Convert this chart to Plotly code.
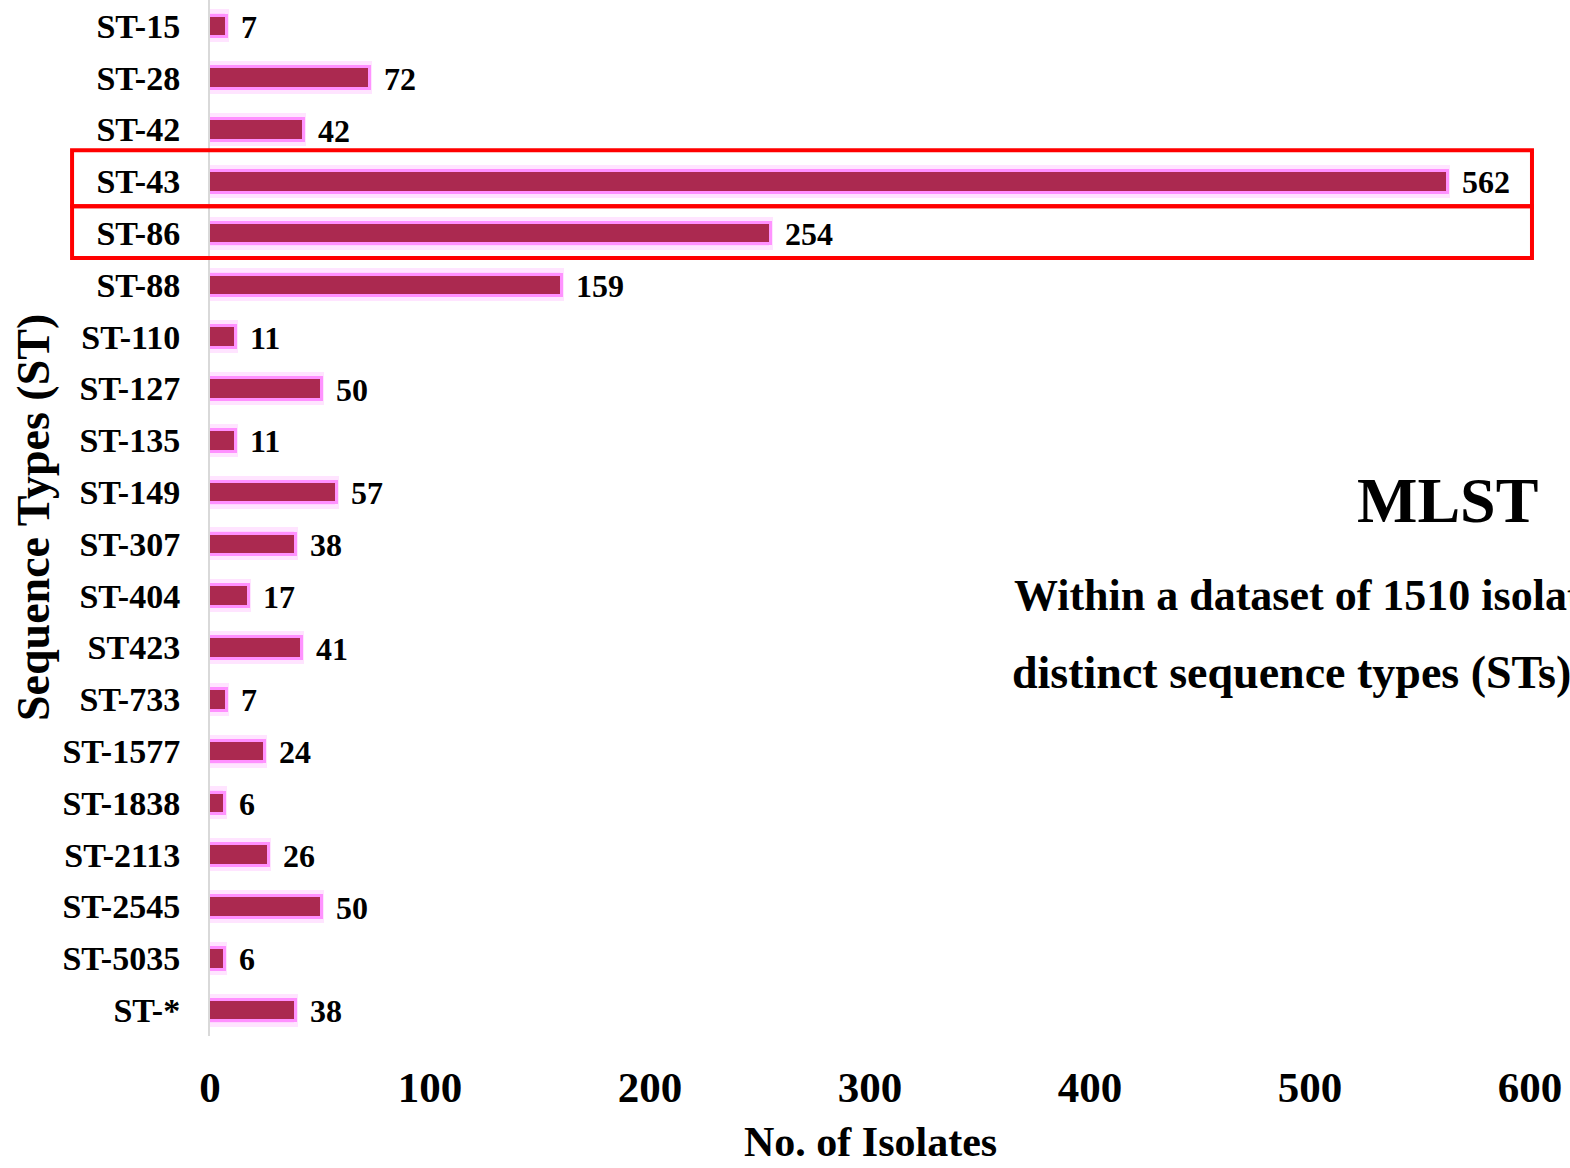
import plotly.graph_objects as go

categories = ["ST-15", "ST-28", "ST-42", "ST-43", "ST-86", "ST-88", "ST-110", "ST-127",
              "ST-135", "ST-149", "ST-307", "ST-404", "ST423", "ST-733", "ST-1577",
              "ST-1838", "ST-2113", "ST-2545", "ST-5035", "ST-*"]
isolates = [7, 72, 42, 562, 254, 159, 11, 50, 11, 57, 38, 17, 41, 7, 24, 6, 26, 50, 6, 38]
highlighted = ["ST-43", "ST-86"]
x_ticks = [0, 100, 200, 300, 400, 500, 600]

FONT = "Liberation Serif"
BAR = "#AB2950"

fig = go.Figure()
# outer soft glow
fig.add_trace(go.Bar(
    y=categories, x=isolates, orientation="h", width=0.48,
    marker=dict(color="rgba(255,195,255,0.45)", line=dict(color="rgba(255,195,255,0.45)", width=8)),
    hoverinfo="skip", showlegend=False,
))
# inner bright glow
fig.add_trace(go.Bar(
    y=categories, x=isolates, orientation="h", width=0.36,
    marker=dict(color="rgba(255,110,255,0.8)", line=dict(color="rgba(255,120,255,0.75)", width=6)),
    hoverinfo="skip", showlegend=False,
))
# main bar
fig.add_trace(go.Bar(
    y=categories, x=isolates, orientation="h", width=0.36,
    marker=dict(color=BAR, line=dict(width=0)),
    hovertemplate="%{y}: %{x}<extra></extra>", showlegend=False,
))

annotations = []
for cat, val in zip(categories, isolates):
    annotations.append(dict(x=val, y=cat, xref="x", yref="y", text=str(val),
                            xanchor="left", yanchor="middle", xshift=14, yshift=-1,
                            showarrow=False,
                            font=dict(family=FONT, size=32, color="black", weight="bold")))

shapes = []
for name in highlighted:
    i = categories.index(name)
    y0 = i - 0.6 if name == highlighted[0] else i - 0.52
    shapes.append(dict(type="rect", xref="paper", yref="y",
                       x0=-0.1045, x1=1.0015, y0=y0, y1=i + 0.48,
                       line=dict(color="#FF0000", width=4)))

annotations += [
    dict(text="MLST", xref="paper", yref="paper", x=(1447 - 210) / 1320, y=0.517,
         xanchor="center", yanchor="middle", showarrow=False,
         font=dict(family=FONT, size=64, color="black", weight="bold")),
    dict(text="Within a dataset of 1510 isolates,", xref="paper", yref="paper",
         x=(1012 - 210) / 1320, y=1 - 595 / 1036, xanchor="left", yanchor="middle",
         showarrow=False,
         font=dict(family=FONT, size=44, color="black", weight="bold")),
    dict(text="distinct sequence types (STs)", xref="paper", yref="paper",
         x=(1010 - 210) / 1320, y=1 - 672 / 1036, xanchor="left", yanchor="middle",
         showarrow=False,
         font=dict(family=FONT, size=46, color="black", weight="bold")),
    # axis titles
    dict(text="No. of Isolates", xref="paper", yref="paper",
         x=0.5, y=(1036 - 1167) / 1036, xanchor="center", yanchor="bottom",
         showarrow=False,
         font=dict(family=FONT, size=42, color="black", weight="bold")),
    dict(text="Sequence Types (ST)", xref="paper", yref="paper", textangle=-90,
         x=(33 - 210) / 1320, y=1 - 518 / 1036, xanchor="center", yanchor="middle",
         showarrow=False,
         font=dict(family=FONT, size=46, color="black", weight="bold")),
]

fig.update_layout(
    width=1570, height=1168,
    margin=dict(l=210, r=40, t=0, b=132),
    paper_bgcolor="white", plot_bgcolor="white",
    barmode="overlay", bargap=0,
    font=dict(family=FONT, color="black"),
    shapes=shapes,
    annotations=annotations,
    xaxis=dict(range=[0, 600], tickvals=x_ticks, showgrid=False, zeroline=False,
               showline=False, ticks="", ticklabelstandoff=22,
               tickfont=dict(family=FONT, size=43, color="black", weight="bold")),
    yaxis=dict(categoryorder="array", categoryarray=categories, autorange="reversed",
               showgrid=False, zeroline=False, showline=True, linecolor="#d9d9d9",
               linewidth=2, ticks="", ticklabelstandoff=21,
               tickfont=dict(family=FONT, size=34, color="black", weight="bold")),
)

fig.write_html("out.html")
